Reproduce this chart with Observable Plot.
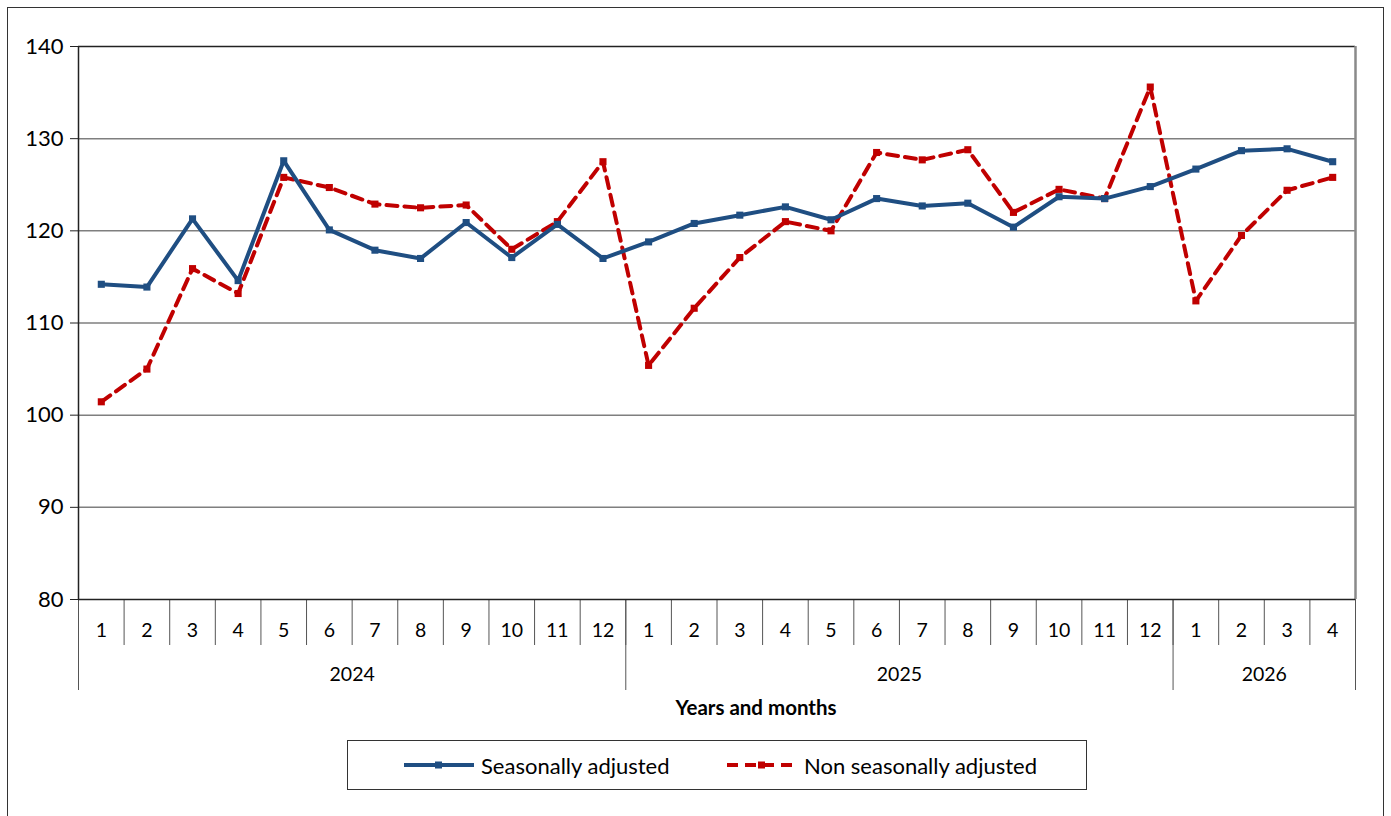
<!DOCTYPE html>
<html>
<head>
<meta charset="utf-8">
<script src="https://cdn.jsdelivr.net/npm/d3@7"></script>
<script src="https://cdn.jsdelivr.net/npm/@observablehq/plot@0.6"></script>
<style>
  html, body { margin: 0; padding: 0; background: #fff; width: 1391px; height: 816px; overflow: hidden; }
  body { position: relative; font-family: Lato, "Open Sans", sans-serif; }
  #frame { position: absolute; left: 7px; top: 7px; width: 1377px; height: 830px; border: 1px solid #333; box-sizing: border-box; }
  #chart { position: absolute; left: 0; top: 0; }
  #xtitle { position: absolute; left: 756px; top: 695px; transform: translateX(-50%); font-weight: bold; font-size: 20.5px; color: #000; white-space: nowrap; }
  #legend { position: absolute; left: 347px; top: 740px; width: 740px; height: 50px; border: 1px solid #333; box-sizing: border-box; }
  .item { position: absolute; top: 0; height: 48px; display: flex; align-items: center; font-size: 22px; color: #000; white-space: nowrap; }
  .item svg { margin-right: 6px; }
</style>
</head>
<body>
<div id="frame"></div>
<div id="chart"></div>
<div id="xtitle">Years and months</div>
<div id="legend"></div>
<script>
const monthLabels = ["1","2","3","4","5","6","7","8","9","10","11","12",
                     "1","2","3","4","5","6","7","8","9","10","11","12",
                     "1","2","3","4"];
const years = ["2024","2025","2026"];
const yearMonthCounts = [12, 12, 4];
const seasonallyAdjusted = [114.2,113.9,121.3,114.6,127.6,120.1,117.9,117.0,120.9,117.1,120.7,117.0,
                            118.8,120.8,121.7,122.6,121.2,123.5,122.7,123.0,120.4,123.7,123.5,124.8,
                            126.7,128.7,128.9,127.5];
const nonSeasonallyAdjusted = [101.45,105.0,115.9,113.2,125.8,124.7,122.9,122.5,122.8,118.0,121.0,127.5,
                               105.4,111.6,117.1,121.0,120.0,128.5,127.7,128.8,122.0,124.5,123.5,135.6,
                               112.4,119.5,124.4,125.8];
const yTicks = [80,90,100,110,120,130,140];
const seriesNames = ["Seasonally adjusted", "Non seasonally adjusted"];
const seriesColors = ["#1F4E82", "#C00000"];

const n = monthLabels.length;
const saRows = seasonallyAdjusted.map((v, i) => ({x: i + 0.5, v}));
const nsaRows = nonSeasonallyAdjusted.map((v, i) => ({x: i + 0.5, v}));

const bounds = [0];
yearMonthCounts.forEach(c => bounds.push(bounds[bounds.length - 1] + c));
const centers = years.map((_, k) => (bounds[k] + bounds[k + 1]) / 2);

const chart = Plot.plot({
  width: 1391,
  height: 720,
  marginLeft: 78,
  marginRight: 36,
  marginTop: 46,
  marginBottom: 121,
  style: {fontSize: "19.5px", fontFamily: "Lato, 'Open Sans', sans-serif", color: "#000", background: "transparent"},
  x: {domain: [0, n]},
  y: {domain: [80, 140]},
  marks: [
    Plot.ruleY(yTicks.slice(1, -1), {stroke: "#7f7f7f", strokeWidth: 1.5}),
    Plot.ruleY([140], {stroke: "#222", strokeWidth: 1.5}),
    Plot.ruleX([n], {stroke: "#8a8a8a", strokeWidth: 2.5}),
    Plot.axisY({ticks: yTicks, tickSize: 8, tickPadding: 7, label: null, stroke: "#222", fontSize: 22}),
    Plot.axisX({ticks: d3.range(n + 1), tickSize: 46, tickFormat: () => "", label: null, stroke: "#555"}),
    Plot.axisX({ticks: bounds, tickSize: 91, tickFormat: () => "", label: null, stroke: "#555"}),
    Plot.axisX({ticks: d3.range(n).map(i => i + 0.5), tickSize: 0, tickPadding: 24, tickFormat: (d) => monthLabels[Math.floor(d)], label: null}),
    Plot.axisX({ticks: centers, tickSize: 0, tickPadding: 68, tickFormat: (d) => years[centers.indexOf(d)], label: null}),
    Plot.ruleX([0], {stroke: "#222", strokeWidth: 1.5}),
    Plot.ruleY([80], {stroke: "#222", strokeWidth: 1.5}),
    Plot.line(nsaRows, {x: "x", y: "v", stroke: seriesColors[1], strokeWidth: 4, strokeDasharray: "11,7"}),
    Plot.dot(nsaRows, {x: "x", y: "v", symbol: "square", fill: seriesColors[1], r: 4}),
    Plot.line(saRows, {x: "x", y: "v", stroke: seriesColors[0], strokeWidth: 4}),
    Plot.dot(saRows, {x: "x", y: "v", symbol: "square", fill: seriesColors[0], r: 4})
  ]
});
document.getElementById("chart").appendChild(chart);

const legend = document.getElementById("legend");
const legendLefts = [55, 378];
seriesNames.forEach((name, k) => {
  const item = document.createElement("div");
  item.className = "item";
  item.style.left = legendLefts[k] + "px";
  const dash = k === 1 ? 'stroke-dasharray="11,7"' : "";
  item.innerHTML = `<svg width="72" height="12"><line x1="1" y1="6" x2="71" y2="6" stroke="${seriesColors[k]}" stroke-width="4" ${dash}/><rect x="32" y="2.5" width="7" height="7" fill="${seriesColors[k]}"/></svg><span>${name}</span>`;
  legend.appendChild(item);
});
</script>
</body>
</html>
